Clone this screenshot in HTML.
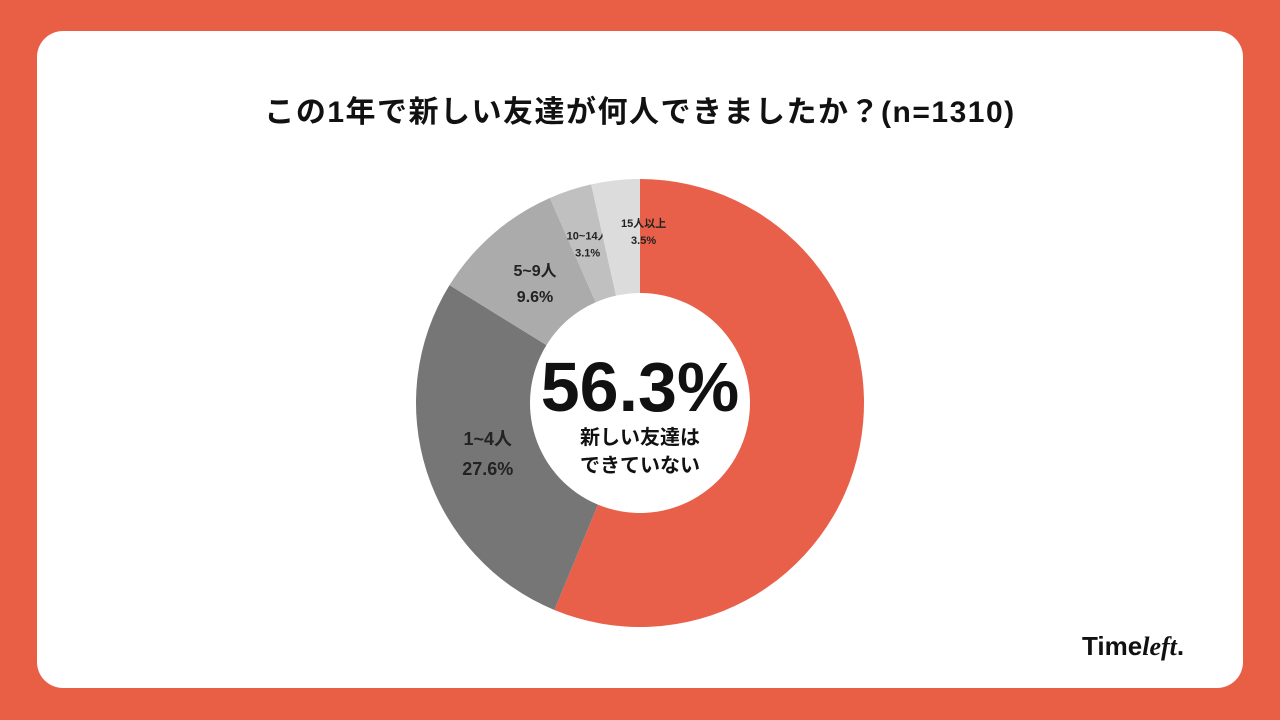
<!DOCTYPE html>
<html><head><meta charset="utf-8"><style>
body{margin:0;width:1280px;height:720px;background:#E95F45;font-family:"Liberation Sans","Noto Sans CJK JP",sans-serif;overflow:hidden}
.card{position:absolute;left:37px;top:31px;width:1206px;height:657px;background:#fff;border-radius:26px}
.title{position:absolute;top:87px;left:0;width:1280px;text-align:center;font-size:30px;font-weight:bold;color:#111;letter-spacing:1.5px}
.logo{position:absolute;left:1082px;top:631px;font-size:26px;font-weight:bold;color:#111;letter-spacing:0px}
</style></head><body>
<div class="card"></div>
<div class="title">この1年で新しい友達が何人できましたか？(n=1310)</div>
<svg id="chart" width="1280" height="720" style="position:absolute;left:0;top:0"></svg>
<div class="logo">Time<i style="font-family:'Liberation Serif',serif">left</i>.</div>
<script>
const categories=["できていない","1~4人","5~9人","10~14人","15人以上"];
const values=[56.3,27.6,9.6,3.1,3.5];
const valueLabels=["56.3%","27.6%","9.6%","3.1%","3.5%"];
const colors=["#E8604A","#767676","#ABABAB","#C0C0C0","#DCDCDC"];
const svg=document.getElementById('chart');const NS='http://www.w3.org/2000/svg';
const cx=640,cy=403,R=224,r=110;
const total=values.reduce((a,b)=>a+b,0);
function pt(a,rad){return [cx+rad*Math.sin(a),cy-rad*Math.cos(a)];}
let a0=0;
values.forEach((v,i)=>{
 const a1=a0+v/total*2*Math.PI;
 const [x1,y1]=pt(a0,R),[x2,y2]=pt(a1,R),[x3,y3]=pt(a1,r),[x4,y4]=pt(a0,r);
 const lg=(a1-a0)>Math.PI?1:0;
 const p=document.createElementNS(NS,'path');
 p.setAttribute('d',`M${x1},${y1}A${R},${R} 0 ${lg} 1 ${x2},${y2}L${x3},${y3}A${r},${r} 0 ${lg} 0 ${x4},${y4}Z`);
 p.setAttribute('fill',colors[i]);
 
 
 svg.appendChild(p);
 if(i>0){
  const mid=(a0+a1)/2;const small=v<5;
  let [lx,ly]=pt(mid,small?168:160);
  if(i===values.length-1){lx+=22;ly-=5;}
  if(i===2){ly+=0;}
  const fs=small?11:(v>20?18:16);
  const gap=small?15:(v>20?28:24);
  [categories[i],valueLabels[i]].forEach((t,k)=>{
   const tx=document.createElementNS(NS,'text');
   tx.setAttribute('x',lx);tx.setAttribute('y',ly+(k===0?-gap/2+fs/2-2:gap/2+fs/2));
   tx.setAttribute('text-anchor','middle');tx.setAttribute('font-size',fs);tx.setAttribute('font-weight','bold');tx.setAttribute('fill','#222');
   tx.textContent=t;
   
   
   svg.appendChild(tx);
  });
 }
 a0=a1;
});
function txt(x,y,s,fs,name){const t=document.createElementNS(NS,'text');t.setAttribute('x',x);t.setAttribute('y',y);t.setAttribute('text-anchor','middle');t.setAttribute('font-size',fs);t.setAttribute('font-weight','bold');t.setAttribute('fill','#111');t.textContent=s;


svg.appendChild(t);}
txt(640,411,valueLabels[0],70,'center-value');
txt(640,444,'新しい友達は',20,'center-label');
txt(640,472,'できていない',20,'center-label');
</script>
</body></html>
